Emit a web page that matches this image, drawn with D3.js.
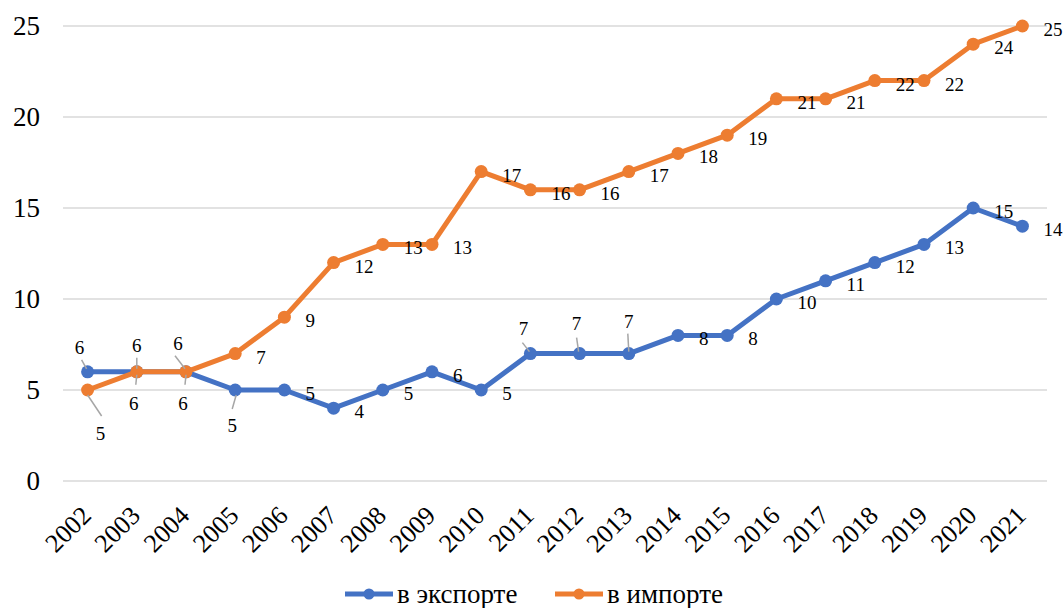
<!DOCTYPE html>
<html>
<head>
  <script src="https://d3js.org/d3.v7.min.js"></script>
</head>
<body style="margin:0">
<svg id="chart" width="1064" height="608"></svg>
<script>
var years = ['2002','2003','2004','2005','2006','2007','2008','2009','2010','2011',
             '2012','2013','2014','2015','2016','2017','2018','2019','2020','2021']
var exportVals = [6, 6, 6, 5, 5, 4, 5, 6, 5, 7, 7, 7, 8, 8, 10, 11, 12, 13, 15, 14]
var importVals = [5, 6, 6, 7, 9, 12, 13, 13, 17, 16, 16, 17, 18, 19, 21, 21, 22, 22, 24, 25]
var yTicks = [0, 5, 10, 15, 20, 25]

var series = [
  { key: 'exp', name: 'в экспорте', color: '#4472C4', values: exportVals },
  { key: 'imp', name: 'в импорте', color: '#ED7D31', values: importVals }
]

// labels that Excel moved away from the default right-hand spot
// offsets from the point: label centre [dx, dy] and leader line [x1, y1, x2, y2]
var movedLabels = {
  'exp-2002': { at: [-8, -25], leader: [-6, -12, -1, -3] },
  'exp-2003': { at: [0, -27], leader: [0, -14, 0, -3] },
  'exp-2004': { at: [-8, -29], leader: [-11, -16, -1, -3] },
  'exp-2005': { at: [-3, 35], leader: [1, 5, -3, 19] },
  'exp-2011': { at: [-7, -26], leader: [-8, -11, -1, -2] },
  'exp-2012': { at: [-3, -31], leader: [-3, -16, -1, -2] },
  'exp-2013': { at: [0, -33], leader: [-1, -20, 0, -2] },
  'imp-2002': { at: [13, 43], leader: [0, 5, 14, 26] },
  'imp-2003': { at: [-3, 31], leader: [0, 3, -1, 13] },
  'imp-2004': { at: [-3, 31], leader: [0, 3, -1, 13] }
}

var svg = d3.select('#chart')
var plotLeft = 63, plotRight = 1047, plotTop = 26, plotBottom = 481

var x = d3.scalePoint().domain(years).range([plotLeft, plotRight]).padding(0.5)
var y = d3.scaleLinear().domain([0, 25]).range([plotBottom, plotTop])

// text drawn at double size and scaled down, serif on every element
function addText (tx, ty, str, size, rotate, anchor) {
  var t = 'translate(' + tx + ',' + ty + ')' + (rotate ? ' rotate(' + rotate + ')' : '') + ' scale(0.5)'
  return svg.append('text')
    .attr('transform', t)
    .attr('text-anchor', anchor || 'start')
    .attr('font-family', 'Liberation Serif')
    .style('font-family', '"Liberation Serif"')
    .style('font-size', (size * 2) + 'px')
    .text(str)
}

// gridlines
yTicks.forEach(function (d) {
  svg.append('line')
    .attr('x1', plotLeft).attr('x2', plotRight)
    .attr('y1', y(d)).attr('y2', y(d))
    .attr('stroke', '#d9d9d9').attr('stroke-width', 1.5)
})

// y tick labels
yTicks.forEach(function (d) {
  addText(40, y(d) + 9, d, 27, 0, 'end')
})

// x tick labels, rotated
years.forEach(function (d) {
  addText(x(d) + 5, 517, d, 26, -45, 'end')
})

var line = d3.line()
  .x(function (d, i) { return x(years[i]) })
  .y(function (d) { return y(d) })

series.forEach(function (s) {
  svg.append('path')
    .attr('d', line(s.values))
    .attr('fill', 'none')
    .attr('stroke', s.color)
    .attr('stroke-width', 5)
    .attr('stroke-linejoin', 'round')
  s.values.forEach(function (v, i) {
    svg.append('circle')
      .attr('cx', x(years[i])).attr('cy', y(v))
      .attr('r', 6.5)
      .attr('fill', s.color)
  })
})

// data labels
series.forEach(function (s) {
  s.values.forEach(function (v, i) {
    var px = x(years[i]), py = y(v)
    var moved = movedLabels[s.key + '-' + years[i]]
    if (moved) {
      var l = moved.leader
      svg.append('line')
        .attr('x1', px + l[0]).attr('y1', py + l[1])
        .attr('x2', px + l[2]).attr('y2', py + l[3])
        .attr('stroke', '#a6a6a6').attr('stroke-width', 1.5)
      addText(px + moved.at[0], py + moved.at[1] + 7, v, 19, 0, 'middle')
    } else {
      addText(px + 21, py + 10, v, 19)
    }
  })
})

// legend
var legendX = [345, 555]
series.forEach(function (s, i) {
  var lx = legendX[i], ly = 594
  svg.append('line')
    .attr('x1', lx).attr('x2', lx + 48)
    .attr('y1', ly).attr('y2', ly)
    .attr('stroke', s.color).attr('stroke-width', 5)
  svg.append('circle')
    .attr('cx', lx + 24).attr('cy', ly).attr('r', 5.5)
    .attr('fill', s.color)
  addText(lx + 52, 603, s.name, 27)
})
</script>
</body>
</html>
